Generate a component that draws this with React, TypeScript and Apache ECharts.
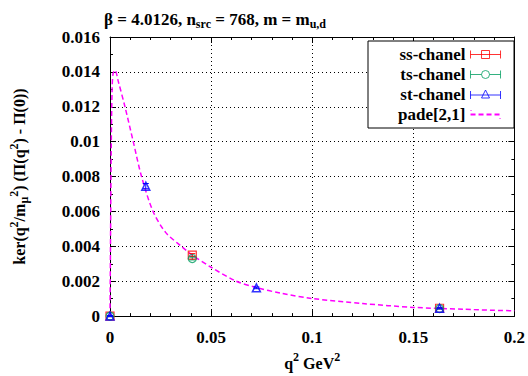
import React, { useEffect, useRef } from "react";
import * as echarts from "echarts";

const ssX = [0, 0.0407, 0.163];
const ssY = [0, 0.0035, 0.00045];
const ssErr = [0.00003, 0.00008, 0.00003];

const tsX = [0, 0.0407, 0.163];
const tsY = [0, 0.0033, 0.00043];
const tsErr = [0.00003, 0.00008, 0.00003];

const stX = [0, 0.0177, 0.0724, 0.163];
const stY = [0, 0.00745, 0.00162, 0.00045];
const stErr = [0.00003, 0.00015, 0.00005, 0.00003];

const padeX = [0, 0.0003, 0.0006, 0.001, 0.0015, 0.0025, 0.004, 0.0074, 0.0115, 0.0156, 0.0213, 0.0275, 0.0353, 0.0407, 0.05, 0.0624, 0.072, 0.085, 0.1, 0.125, 0.15, 0.175, 0.2];
const padeY = [0, 0.005, 0.0095, 0.0128, 0.0139, 0.0141, 0.0135, 0.012, 0.01, 0.008, 0.006, 0.0048, 0.004, 0.0035, 0.0028, 0.002, 0.00165, 0.0013, 0.00101, 0.00072, 0.0005, 0.00039, 0.0003];

const xTicks = { min: 0, max: 0.2, interval: 0.05 };
const yTicks = { min: 0, max: 0.016, interval: 0.002 };

const RED = "#ff0000";
const GREEN = "#009e60";
const BLUE = "#0000ff";
const MAGENTA = "#ff00ff";
const FONT = "'Liberation Serif', 'Times New Roman', serif";

function pairs(xs: number[], ys: number[], es?: number[]) {
  return xs.map((x, i) => (es ? [x, ys[i], es[i]] : [x, ys[i]]));
}

function errSeries(name: string, data: number[][], color: string) {
  return {
    name: name + "-err",
    type: "custom",
    silent: true,
    z: 3,
    data,
    renderItem: (params: any, api: any) => {
      const x = api.value(0);
      const y = api.value(1);
      const e = api.value(2);
      const lo = api.coord([x, y - e]);
      const hi = api.coord([x, y + e]);
      const st = { stroke: color, lineWidth: 1 };
      return {
        type: "group",
        children: [
          { type: "line", shape: { x1: lo[0], y1: lo[1], x2: hi[0], y2: hi[1] }, style: st },
          { type: "line", shape: { x1: lo[0] - 3, y1: lo[1], x2: lo[0] + 3, y2: lo[1] }, style: st },
          { type: "line", shape: { x1: hi[0] - 3, y1: hi[1], x2: hi[0] + 3, y2: hi[1] }, style: st },
        ],
      };
    },
  };
}

export default function App() {
  const ref = useRef<HTMLDivElement>(null);
  useEffect(() => {
    if (!ref.current) return;
    const chart = echarts.init(ref.current, undefined, { renderer: "svg" });
    const axisCommon = {
      axisLine: { show: true, onZero: false, lineStyle: { color: "#000", width: 1 } },
      axisTick: { show: true, inside: true, length: 6, lineStyle: { color: "#000" } },
    };
    const grid = { left: 110, right: 12, top: 37, bottom: 53 };
    const bold = { fontFamily: FONT, fontWeight: "bold", color: "#000" };
    chart.setOption({
      animation: false,
      backgroundColor: "#fff",
      textStyle: { fontFamily: FONT },
      title: {
        text: "{a|β = 4.0126, n}{s|src}{a| = 768, m = m}{s|u,d}",
        left: 210,
        textAlign: "center",
        top: 3,
        textStyle: {
          rich: {
            a: { ...bold, fontSize: 17, lineHeight: 22 },
            s: { ...bold, fontSize: 12, lineHeight: 12, verticalAlign: "bottom" },
          },
        },
      },
      grid,
      legend: {
        orient: "vertical",
        left: 368,
        top: 41,
        backgroundColor: "#fff",
        borderColor: "#000",
        borderWidth: 1,
        borderRadius: 0,
        padding: [5, 13, 5, 30],
        itemGap: 3,
        itemWidth: 30,
        itemHeight: 9,
        align: "right",
        textStyle: { ...bold, fontSize: 17 },
        data: [
          {
            name: "ss-chanel",
            icon: "path://M0,4H30M0,0V8M30,0V8M11,0H19V8H11Z",
            itemStyle: { color: "rgba(0,0,0,0)", borderColor: RED, borderWidth: 1 },
          },
          {
            name: "ts-chanel",
            icon: "path://M0,4H11M19,4H30M0,0V8M30,0V8M11,4A4,4,0,1,1,19,4A4,4,0,1,1,11,4Z",
            itemStyle: { color: "rgba(0,0,0,0)", borderColor: GREEN, borderWidth: 1 },
          },
          {
            name: "st-chanel",
            icon: "path://M0,5H30M0,1V9M30,1V9M11,8L15,0L19,8Z",
            itemStyle: { color: "rgba(0,0,0,0)", borderColor: BLUE, borderWidth: 1 },
          },
          {
            name: "pade[2,1]",
            icon: "path://M0,0H1V1H0Z M0,3.5H5V5.5H0Z M8,3.5H13V5.5H8Z M16,3.5H21V5.5H16Z M24,3.5H29V5.5H24Z M29,8H30V9H29Z",
            itemStyle: { color: MAGENTA, borderWidth: 0 },
          },
        ],
      },
      xAxis: [
        {
          type: "value",
          ...xTicks,
          ...axisCommon,
          position: "bottom",
          minorTick: { show: true, splitNumber: 5, length: 3, lineStyle: { color: "#000" } },
          splitLine: { show: true, lineStyle: { color: "#000", type: [1, 3], width: 1 } },
          axisLabel: { ...bold, fontSize: 17, margin: 13 },
          name: "{a|q}{p|2}{a| GeV}{p|2}",
          nameLocation: "middle",
          nameGap: 30,
          nameTextStyle: {
            rich: {
              a: { ...bold, fontSize: 16, lineHeight: 20, verticalAlign: "bottom" },
              p: { ...bold, fontSize: 12, lineHeight: 11, verticalAlign: "top" },
            },
          },
        },
        {
          type: "value",
          ...xTicks,
          ...axisCommon,
          position: "top",
          minorTick: { show: true, splitNumber: 5, length: 3, lineStyle: { color: "#000" } },
          splitLine: { show: false },
          axisLabel: { show: false },
        },
      ],
      yAxis: [
        {
          type: "value",
          ...yTicks,
          ...axisCommon,
          position: "left",
          minorTick: { show: true, splitNumber: 2, length: 3, lineStyle: { color: "#000" } },
          splitLine: { show: true, lineStyle: { color: "#000", type: [1, 3], width: 1 } },
          axisLabel: { ...bold, fontSize: 17, margin: 10 },
          name: "{a|ker(q}{p|2}{a|/m}{q|μ}{p|2}{a|) (Π(q}{p|2}{a|) - Π(0))}",
          nameLocation: "middle",
          nameGap: 80,
          nameRotate: 90,
          nameTextStyle: {
            rich: {
              a: { ...bold, fontSize: 16, lineHeight: 22, verticalAlign: "middle" },
              p: { ...bold, fontSize: 12, lineHeight: 11, verticalAlign: "top" },
              q: { ...bold, fontSize: 12, lineHeight: 11, verticalAlign: "bottom" },
            },
          },
        },
        {
          type: "value",
          ...yTicks,
          ...axisCommon,
          position: "right",
          minorTick: { show: true, splitNumber: 2, length: 3, lineStyle: { color: "#000" } },
          splitLine: { show: false },
          axisLabel: { show: false },
        },
      ],
      series: [
        {
          name: "pade[2,1]",
          type: "line",
          data: pairs(padeX, padeY),
          symbol: "none",
          smooth: 0.3,
          z: 2,
          lineStyle: { color: MAGENTA, width: 1.5, type: [5, 3] },
          itemStyle: { color: MAGENTA },
        },
        errSeries("ss-chanel", pairs(ssX, ssY, ssErr), RED),
        errSeries("ts-chanel", pairs(tsX, tsY, tsErr), GREEN),
        errSeries("st-chanel", pairs(stX, stY, stErr), BLUE),
        {
          name: "ss-chanel",
          type: "scatter",
          data: pairs(ssX, ssY),
          symbol: "rect",
          symbolSize: 8,
          z: 4,
          itemStyle: { color: "rgba(0,0,0,0)", borderColor: RED, borderWidth: 1.2 },
        },
        {
          name: "ts-chanel",
          type: "scatter",
          data: pairs(tsX, tsY),
          symbol: "circle",
          symbolSize: 8,
          z: 4,
          itemStyle: { color: "rgba(0,0,0,0)", borderColor: GREEN, borderWidth: 1.2 },
        },
        {
          name: "st-chanel",
          type: "scatter",
          data: pairs(stX, stY),
          symbol: "triangle",
          symbolSize: 8,
          z: 4,
          itemStyle: { color: "rgba(0,0,0,0)", borderColor: BLUE, borderWidth: 1.5 },
        },
      ],
    });
    return () => chart.dispose();
  }, []);
  return <div ref={ref} style={{ width: 528, height: 376, position: "fixed", left: 0, top: 0 }} />;
}
